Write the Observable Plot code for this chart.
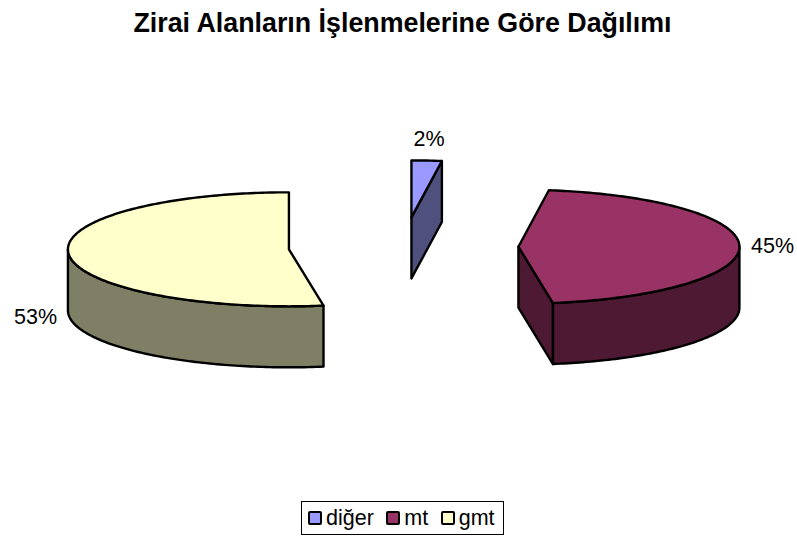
<!DOCTYPE html>
<html>
<head>
<meta charset="utf-8">
<script src="https://cdn.jsdelivr.net/npm/d3@7"></script>
<script src="https://cdn.jsdelivr.net/npm/@observablehq/plot@0.6"></script>
<style>
  html, body { margin: 0; padding: 0; background: #fff; }
  body { width: 797px; height: 536px; overflow: hidden; position: relative; font-family: "Liberation Sans", Arial, sans-serif; color: #000; }
  #title { position: absolute; left: 4px; top: 7px; width: 797px; text-align: center; font-weight: bold; font-size: 26.8px; line-height: 32px; white-space: nowrap; }
  #chart { position: absolute; left: 0; top: 48px; }
  #chart svg { display: block; overflow: visible; }
  #legend { position: absolute; left: 301px; top: 501px; width: 203px; height: 34px; box-sizing: border-box; border: 1px solid #000; display: flex; align-items: center; padding-left: 6px; font-size: 21.5px; }
  .item { display: flex; align-items: center; margin-right: 12.5px; }
  .sw { width: 10px; height: 10px; border: 2.5px solid #000; border-radius: 2px; margin-right: 4px; }
</style>
</head>
<body>
<div id="title"></div>
<div id="chart"></div>
<div id="legend"></div>
<script>
const chartTitle = "Zirai Alanların İşlenmelerine Göre Dağılımı";
const categories = ["diğer", "mt", "gmt"];
const shares = [2.2, 45.3, 52.5];
const topColors = ["#9999FF", "#993366", "#FFFFCC"];
const sideColors = ["#50507F", "#4D1933", "#7F7F66"];

// Pie model, in units of the pie's ellipse radii
const explode = 0.52;
const depth = 1.07;
const W = 797, H = 452;
const rx = 221, ry = 57, originX = 403, originY = 198.5;

const rad = d => d * Math.PI / 180;
const range = (a, b) => {
  const out = [];
  const n = Math.max(1, Math.ceil(b - a));
  for (let i = 0; i <= n; ++i) out.push(a + (b - a) * i / n);
  return out;
};

let cum = 0;
const slices = categories.map((name, i) => {
  const start = cum * 3.6;
  cum += shares[i];
  const end = cum * 3.6;
  const mid = (start + end) / 2;
  return {
    name, start, end, mid, i,
    cx: explode * Math.sin(rad(mid)),
    cy: explode * Math.cos(rad(mid))
  };
});

const rim = (s, a, dz = 0) => ({ x: s.cx + Math.sin(rad(a)), y: s.cy + Math.cos(rad(a)) - dz });

const faces = [];
let fid = 0;
const addFace = (pts, fill) => { const id = fid++; pts.forEach(p => faces.push({ ...p, id, fill })); };

slices.forEach(s => {
  const side = sideColors[s.i];
  const tip = { x: s.cx, y: s.cy };
  const tipLow = { x: s.cx, y: s.cy - depth };
  // radial faces that look toward the viewer
  if (Math.sin(rad(s.end)) > 1e-6) addFace([tip, rim(s, s.end), rim(s, s.end, depth), tipLow], side);
  if (Math.sin(rad(s.start)) < -1e-6) addFace([tip, rim(s, s.start), rim(s, s.start, depth), tipLow], side);
  // outer wall, front half only
  const a0 = Math.max(s.start, 90), a1 = Math.min(s.end, 270);
  if (a1 > a0) {
    const arc = range(a0, a1);
    addFace([...arc.map(a => rim(s, a)), ...arc.slice().reverse().map(a => rim(s, a, depth))], side);
  }
  // top face
  addFace([tip, ...range(s.start, s.end).map(a => rim(s, a))], topColors[s.i]);
});

const labels = slices.map((s, i) => {
  const sin = Math.sin(rad(s.mid)), cos = Math.cos(rad(s.mid));
  return {
    x: s.cx + sin * 1.15,
    y: s.cy + cos * 1.37 - (cos < 0 ? depth + 0.02 : 0),
    text: Math.round(shares[i]) + "%"
  };
});

const plot = Plot.plot({
  width: W, height: H,
  margin: 0,
  x: { domain: [-originX / rx, (W - originX) / rx], range: [0, W], axis: null },
  y: { domain: [originY / ry, -(H - originY) / ry], range: [0, H], axis: null },
  style: { background: "transparent" },
  marks: [
    Plot.line(faces, {
      x: "x", y: "y", z: "id",
      fill: "fill", stroke: "#000", strokeWidth: 2.4,
      curve: "linear-closed", strokeLinejoin: "round"
    }),
    Plot.text(labels, {
      x: "x", y: "y", text: "text",
      fontSize: 21.5, fontFamily: "Liberation Sans, Arial, sans-serif", fill: "#000"
    })
  ]
});
document.getElementById("chart").appendChild(plot);
document.getElementById("title").textContent = chartTitle;

const legend = document.getElementById("legend");
categories.forEach((c, i) => {
  const it = document.createElement("div");
  it.className = "item";
  const sw = document.createElement("span");
  sw.className = "sw";
  sw.style.background = topColors[i];
  const t = document.createElement("span");
  t.textContent = c;
  it.append(sw, t);
  legend.append(it);
});
</script>
</body>
</html>
